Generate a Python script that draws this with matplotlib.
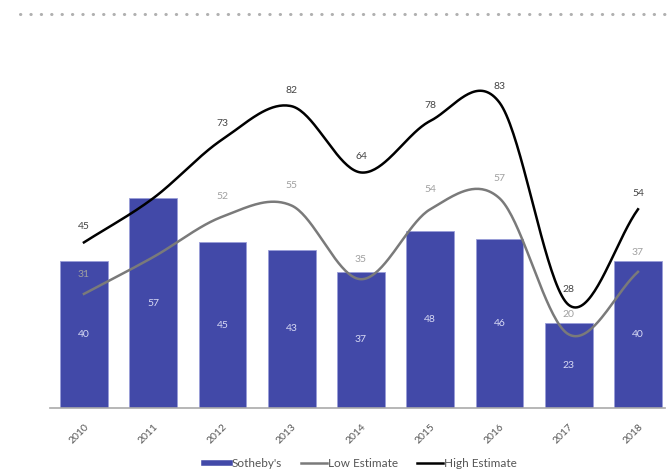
import numpy as np
import matplotlib
matplotlib.use("Agg")
import matplotlib.pyplot as plt
from matplotlib.lines import Line2D

plt.rcParams['font.family'] = ['Lato', 'DejaVu Sans']

years = ["2010", "2011", "2012", "2013", "2014", "2015", "2016", "2017", "2018"]
sothebys = [40, 57, 45, 43, 37, 48, 46, 23, 40]
low_est = [31, 41, 52, 55, 35, 54, 57, 20, 37]
high_est = [45, 57, 73, 82, 64, 78, 83, 28, 54]
# line labels hidden where they'd clash with the bar
hide_label = [1]

BAR = "#4249a8"


def smooth(x, y, n=40):
    # catmull-rom style hermite curve through the points
    x = np.asarray(x, float)
    y = np.asarray(y, float)
    m = np.zeros_like(y)
    m[1:-1] = (y[2:] - y[:-2]) / (x[2:] - x[:-2])
    m[0] = (y[1] - y[0]) / (x[1] - x[0])
    m[-1] = (y[-1] - y[-2]) / (x[-1] - x[-2])
    xs, ys = [], []
    for i in range(len(x) - 1):
        h = x[i + 1] - x[i]
        t = np.linspace(0, 1, n, endpoint=False)
        h00 = 2 * t**3 - 3 * t**2 + 1
        h10 = t**3 - 2 * t**2 + t
        h01 = -2 * t**3 + 3 * t**2
        h11 = t**3 - t**2
        xs.append(x[i] + t * h)
        ys.append(h00 * y[i] + h10 * h * m[i] + h01 * y[i + 1] + h11 * h * m[i + 1])
    xs.append([x[-1]])
    ys.append([y[-1]])
    return np.concatenate(xs), np.concatenate(ys)


fig = plt.figure(figsize=(6.68, 4.74), dpi=100)
ax = fig.add_axes([50 / 668, 66 / 474, 615 / 668, 368 / 474])

x = np.arange(len(years))
ax.bar(x, sothebys, width=0.69, color=BAR, edgecolor="#9a9ed8", linewidth=0.6,
       label="Sotheby's", zorder=2)

lx, ly = smooth(x, low_est)
ax.plot(lx, ly, color="#7a7a7a", lw=1.8, label="Low Estimate", zorder=3)
hx, hy = smooth(x, high_est)
ax.plot(hx, hy, color="black", lw=1.8, label="High Estimate", zorder=4)

for i, v in enumerate(sothebys):
    ax.text(i, v / 2, str(v), ha="center", va="center", fontsize=7.5,
            color="#d8daf4", zorder=5)
for i, (lo, hi) in enumerate(zip(low_est, high_est)):
    if i in hide_label:
        continue
    ax.annotate(str(lo), (i, lo), xytext=(0, 11), textcoords="offset points",
                ha="center", va="bottom", fontsize=7.5, color="#a0a0a0", zorder=5)
    ax.annotate(str(hi), (i, hi), xytext=(0, 8), textcoords="offset points",
                ha="center", va="bottom", fontsize=7.5, color="#444444", zorder=5)

ax.set_xlim(-0.49, 8.39)
ax.set_ylim(0, 100)
ax.set_yticks([])
ax.set_xticks(x)
ax.set_xticklabels(years, rotation=45, ha="right", rotation_mode="anchor",
                   fontsize=7.5, color="#555555")
ax.tick_params(axis="x", length=0, pad=10)
for s in ["top", "right", "left"]:
    ax.spines[s].set_visible(False)
ax.spines["bottom"].set_color("#aaaaaa")
ax.spines["bottom"].set_linewidth(1.2)

# dotted separator at top
fig.add_artist(Line2D([20 / 668, 1.0], [1 - 14 / 474, 1 - 14 / 474], color="#b0b0b0",
                      lw=2.2, linestyle=(0, (0.1, 3.3)), dash_capstyle="round",
                      transform=fig.transFigure))

handles = [Line2D([], [], color=BAR, lw=4),
           Line2D([], [], color="#7a7a7a", lw=1.8),
           Line2D([], [], color="black", lw=1.8)]
fig.legend(handles, ["Sotheby's", "Low Estimate", "High Estimate"], loc="lower center",
           bbox_to_anchor=(0.54, -0.012), ncol=3, frameon=False, fontsize=8.5,
           handlelength=2.2, handletextpad=0.1, columnspacing=1.6, labelcolor="#555555")

fig.savefig("out.png", dpi=100)
